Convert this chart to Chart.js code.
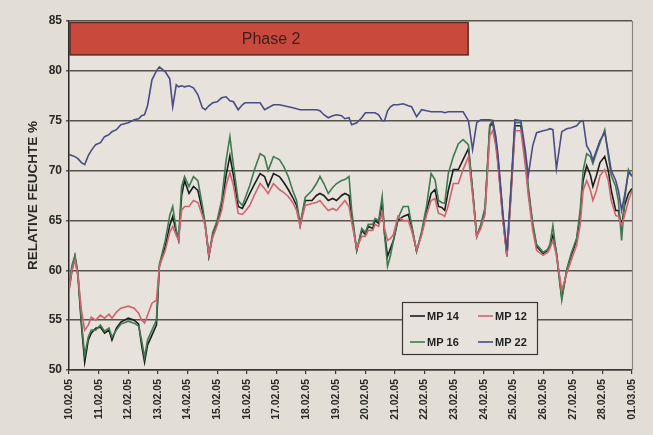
<!DOCTYPE html>
<html>
<head>
<meta charset="utf-8">
<script src="https://cdn.jsdelivr.net/npm/chart.js@4.4.1/dist/chart.umd.min.js"></script>
<style>
  html, body { margin: 0; padding: 0; background: #e2ded6; }
  #wrap { width: 653px; height: 435px; }
</style>
</head>
<body>
<div id="wrap"><canvas id="c" width="653" height="435"></canvas></div>
<script>
// ---- DATA ----
const dateLabels = ['10.02.05','11.02.05','12.02.05','13.02.05','14.02.05','15.02.05','16.02.05','17.02.05','18.02.05','19.02.05','20.02.05','21.02.05','22.02.05','23.02.05','24.02.05','25.02.05','26.02.05','27.02.05','28.02.05','01.03.05'];
// time in days since 10.02.05 00:00
const days = [0.00,0.10,0.20,0.30,0.42,0.53,0.65,0.75,0.90,1.06,1.20,1.35,1.45,1.60,1.75,2.00,2.20,2.35,2.45,2.55,2.65,2.80,2.95,3.05,3.25,3.40,3.50,3.62,3.70,3.80,3.90,4.05,4.20,4.35,4.50,4.60,4.72,4.85,5.00,5.15,5.30,5.43,5.55,5.71,5.85,5.94,6.10,6.25,6.45,6.60,6.72,6.90,7.10,7.25,7.40,7.55,7.68,7.80,7.97,8.20,8.35,8.47,8.60,8.75,8.90,9.03,9.20,9.31,9.45,9.54,9.71,9.88,10.00,10.10,10.25,10.33,10.45,10.57,10.65,10.75,10.85,10.95,11.10,11.28,11.45,11.56,11.73,11.90,12.07,12.22,12.35,12.47,12.58,12.68,12.80,12.97,13.14,13.30,13.48,13.62,13.76,13.90,14.04,14.20,14.30,14.40,14.48,14.65,14.78,14.92,15.05,15.25,15.40,15.50,15.65,15.78,16.00,16.15,16.23,16.33,16.45,16.63,16.80,16.95,17.13,17.25,17.35,17.47,17.60,17.68,17.80,17.92,18.08,18.20,18.30,18.45,18.54,18.65,18.75,18.88,19.00];

const mp14 = [58.0,60.0,61.4,59.5,54.5,50.8,53.0,53.7,54.2,54.3,53.7,54.0,53.0,54.2,54.8,55.2,55.0,54.6,52.5,50.8,52.5,53.5,54.5,60.4,62.4,64.5,65.4,63.8,63.0,67.5,69.0,67.7,68.4,68.0,66.0,64.4,61.4,63.5,64.8,66.4,69.5,71.5,69.5,66.4,66.2,66.7,67.7,68.6,69.7,69.4,68.4,69.7,69.4,68.8,68.1,67.3,66.5,64.5,67.0,67.0,67.5,67.7,67.5,67.0,67.2,67.0,67.5,67.7,67.5,65.4,62.0,64.0,63.6,64.4,64.2,65.0,64.7,66.8,63.7,61.4,62.2,63.0,65.0,65.4,65.6,64.4,61.9,63.7,66.0,67.7,68.1,66.4,66.3,66.0,68.0,70.1,70.1,71.1,72.2,68.0,63.4,64.5,66.0,74.4,74.8,73.0,70.8,65.0,61.4,68.0,74.5,74.5,71.0,68.0,64.5,62.4,61.7,62.0,62.4,63.5,61.8,57.3,60.0,61.5,63.0,65.5,69.0,70.5,69.5,68.4,69.5,70.8,71.4,70.0,68.0,66.0,66.0,64.4,66.5,67.7,68.2];

const mp12 = [58.0,60.0,61.0,59.5,56.0,54.0,54.5,55.3,55.0,55.5,55.2,55.6,55.2,55.8,56.2,56.4,56.2,55.7,55.0,54.7,55.5,56.7,57.0,60.4,62.0,63.8,64.4,63.5,63.0,66.0,66.4,66.4,67.0,66.8,65.5,64.4,61.6,63.3,64.5,66.0,68.5,69.8,68.5,65.7,65.6,65.9,66.5,67.5,68.7,68.2,67.7,68.7,68.1,67.8,67.4,66.8,66.0,64.4,66.5,66.7,66.8,67.0,66.5,66.0,66.2,66.0,66.6,67.0,66.4,64.8,62.2,63.4,63.4,64.0,64.0,64.6,64.4,65.8,64.2,63.0,63.2,63.6,65.4,65.0,65.0,64.0,62.0,63.5,65.6,67.0,67.2,65.7,65.6,65.4,66.5,68.7,68.7,70.1,71.4,67.5,63.4,64.2,65.6,73.5,74.0,72.5,70.5,64.8,61.4,67.5,74.0,74.0,70.5,67.5,64.0,62.0,61.5,61.8,62.2,63.0,61.5,58.0,59.7,61.0,62.5,64.5,68.0,69.0,68.0,67.0,68.0,69.5,70.1,69.0,67.0,65.5,65.4,64.5,65.5,67.0,68.0];

const mp16 = [58.5,60.5,61.5,59.8,54.8,51.5,53.3,54.0,54.0,54.5,53.9,54.2,53.3,54.0,54.6,54.9,54.7,54.4,53.0,51.3,53.0,54.0,55.0,60.6,63.0,65.5,66.4,64.0,63.2,68.4,69.4,68.4,69.4,69.0,66.5,64.6,61.5,63.8,65.0,67.0,71.0,73.4,70.5,67.0,66.5,67.2,68.5,70.0,71.7,71.4,70.0,71.4,71.1,70.4,69.4,68.0,67.0,64.6,67.3,68.0,68.7,69.4,68.7,67.7,68.3,68.7,69.0,69.1,69.4,66.0,62.0,64.2,63.8,64.6,64.6,65.2,65.0,67.4,63.5,60.4,61.5,63.0,65.2,66.4,66.4,64.6,61.9,63.9,66.5,69.7,69.1,67.0,66.8,66.7,69.7,71.4,72.7,73.1,72.6,68.0,63.4,64.6,66.3,74.6,75.0,73.2,71.0,65.2,61.5,68.2,74.8,74.8,71.3,68.4,64.7,62.6,61.8,62.1,62.6,64.5,61.6,57.0,60.1,61.7,63.2,66.0,70.0,71.7,71.4,70.7,71.8,72.8,74.1,71.5,69.5,68.4,67.0,63.0,67.0,70.1,69.4];

const mp22 = [71.6,71.5,71.4,71.2,70.8,70.6,71.5,72.0,72.6,72.8,73.4,73.6,73.9,74.1,74.6,74.8,75.1,75.2,75.5,75.6,76.5,79.1,80.0,80.4,79.9,79.2,76.4,78.6,78.4,78.5,78.4,78.5,78.3,77.6,76.3,76.1,76.5,76.8,76.9,77.3,77.4,77.0,76.9,76.1,76.6,76.8,76.8,76.8,76.8,76.1,76.3,76.6,76.6,76.5,76.4,76.3,76.2,76.1,76.1,76.1,76.1,76.0,75.6,75.3,75.5,75.6,75.5,75.2,75.3,74.6,74.8,75.3,75.8,75.8,75.8,75.8,75.6,75.0,75.0,76.0,76.4,76.6,76.6,76.7,76.5,76.4,75.4,76.1,76.0,75.9,75.9,75.9,75.9,75.8,75.9,75.9,75.9,75.9,75.0,72.1,74.8,75.1,75.1,75.1,75.0,73.5,71.5,65.5,62.0,68.5,75.1,75.0,72.0,69.5,72.5,73.8,74.0,74.1,74.2,74.1,70.2,73.9,74.2,74.3,74.5,74.9,75.0,72.5,71.8,71.0,72.0,73.0,73.8,71.8,70.0,69.0,68.0,66.0,67.5,69.8,69.5];

const seriesNames = ['MP 14','MP 12','MP 16','MP 22'];
const phaseLabel = 'Phase 2';
const phaseStart = 0, phaseEnd = 13.47, phaseTop = 85, phaseBottom = 81.6;

// ---- STYLES ----
const colors = { 'MP 14': '#1c1c1c', 'MP 12': '#cf6470', 'MP 16': '#3f7a52', 'MP 22': '#4a4c86' };
const FONT = '"Liberation Sans", Arial, sans-serif';

function pts(arr) { return days.map((d, i) => ({ x: d, y: arr[i] })); }

const valuesByName = { 'MP 14': mp14, 'MP 12': mp12, 'MP 16': mp16, 'MP 22': mp22 };
// draw order: MP 22 (bottom), MP 12, MP 16, MP 14 (top)
const drawOrder = ['MP 22', 'MP 12', 'MP 16', 'MP 14'];
const datasets = drawOrder.map(n => ({
  label: n,
  data: pts(valuesByName[n]),
  borderColor: colors[n],
  backgroundColor: colors[n],
  borderWidth: 1.6,
  pointRadius: 0,
  tension: 0,
  fill: false
}));

const decor = {
  id: 'decor',
  beforeDraw(chart) {
    const { ctx, chartArea: a } = chart;
    ctx.save();
    ctx.fillStyle = '#e7e3dc';
    ctx.fillRect(a.left, a.top, a.right - a.left, a.bottom - a.top);
    ctx.restore();
  },
  afterDatasetsDraw(chart) {
    const { ctx, chartArea: a, scales: { x, y } } = chart;
    ctx.save();
    // right border
    ctx.strokeStyle = '#8a8680';
    ctx.lineWidth = 1.2;
    ctx.beginPath();
    ctx.moveTo(a.right + 0.5, a.top);
    ctx.lineTo(a.right + 0.5, a.bottom);
    ctx.stroke();
    // phase bar
    const x0 = x.getPixelForValue(phaseStart) + 1, x1 = x.getPixelForValue(phaseEnd);
    const y0 = y.getPixelForValue(phaseTop) + 1.5, y1 = y.getPixelForValue(phaseBottom);
    ctx.fillStyle = '#c94a3c';
    ctx.fillRect(x0, y0, x1 - x0, y1 - y0);
    ctx.strokeStyle = '#5a2a22';
    ctx.lineWidth = 1.5;
    ctx.strokeRect(x0, y0, x1 - x0, y1 - y0);
    ctx.fillStyle = '#3e1e18';
    ctx.font = '16px ' + FONT;
    ctx.textAlign = 'center';
    ctx.textBaseline = 'middle';
    ctx.fillText(phaseLabel, (x0 + x1) / 2 + 2, (y0 + y1) / 2 + 1);
    // legend
    const bx = 402, by = 302, bw = 135, bh = 52;
    ctx.fillStyle = '#e7e3dc';
    ctx.fillRect(bx, by, bw, bh);
    ctx.strokeStyle = '#3a3835';
    ctx.lineWidth = 1.2;
    ctx.strokeRect(bx + 0.5, by + 0.5, bw, bh);
    const items = [
      { n: 'MP 14', lx: 410, ly: 316 }, { n: 'MP 12', lx: 478, ly: 316 },
      { n: 'MP 16', lx: 410, ly: 342 }, { n: 'MP 22', lx: 478, ly: 342 }
    ];
    ctx.font = 'bold 11px ' + FONT;
    ctx.textAlign = 'left';
    items.forEach(it => {
      ctx.strokeStyle = colors[it.n];
      ctx.lineWidth = 1.6;
      ctx.beginPath();
      ctx.moveTo(it.lx, it.ly);
      ctx.lineTo(it.lx + 15, it.ly);
      ctx.stroke();
      ctx.fillStyle = '#1e1e1e';
      ctx.fillText(it.n, it.lx + 17, it.ly + 0.5);
    });
    ctx.restore();
  }
};

new Chart(document.getElementById('c'), {
  type: 'line',
  data: { datasets },
  options: {
    responsive: false,
    animation: false,
    layout: { padding: { top: 21, right: 21, left: 0, bottom: 0 } },
    plugins: { legend: { display: false }, tooltip: { enabled: false } },
    scales: {
      x: {
        type: 'linear',
        min: 0, max: 19,
        afterFit(s) { s.height = 65; },
        afterBuildTicks(s) { s.ticks = dateLabels.map((_, i) => ({ value: i })); },
        ticks: {
          autoSkip: false,
          maxRotation: 90, minRotation: 90,
          padding: 5,
          color: '#2a2826',
          font: { family: FONT, size: 10.5, weight: 'bold' },
          callback: (v) => dateLabels[v] ?? ''
        },
        grid: { drawOnChartArea: false, drawTicks: true, tickLength: 4, color: '#3a3835', lineWidth: 1.2 },
        border: { display: true, color: '#3a3835', width: 1.5 }
      },
      y: {
        min: 50, max: 85,
        afterFit(s) { s.width = 69; },
        ticks: {
          stepSize: 5,
          padding: 4,
          color: '#2a2826',
          font: { family: FONT, size: 12, weight: 'bold' }
        },
        grid: { color: '#57534d', lineWidth: 1.5, tickLength: 3, drawTicks: true },
        border: { display: true, color: '#2a2826', width: 1.5 },
        title: {
          display: true,
          text: 'RELATIVE FEUCHTE %',
          color: '#2a2826',
          font: { family: FONT, size: 13.5, weight: 'bold' },
          padding: { top: 25, bottom: 0 }
        }
      }
    }
  },
  plugins: [decor]
});
</script>
</body>
</html>
